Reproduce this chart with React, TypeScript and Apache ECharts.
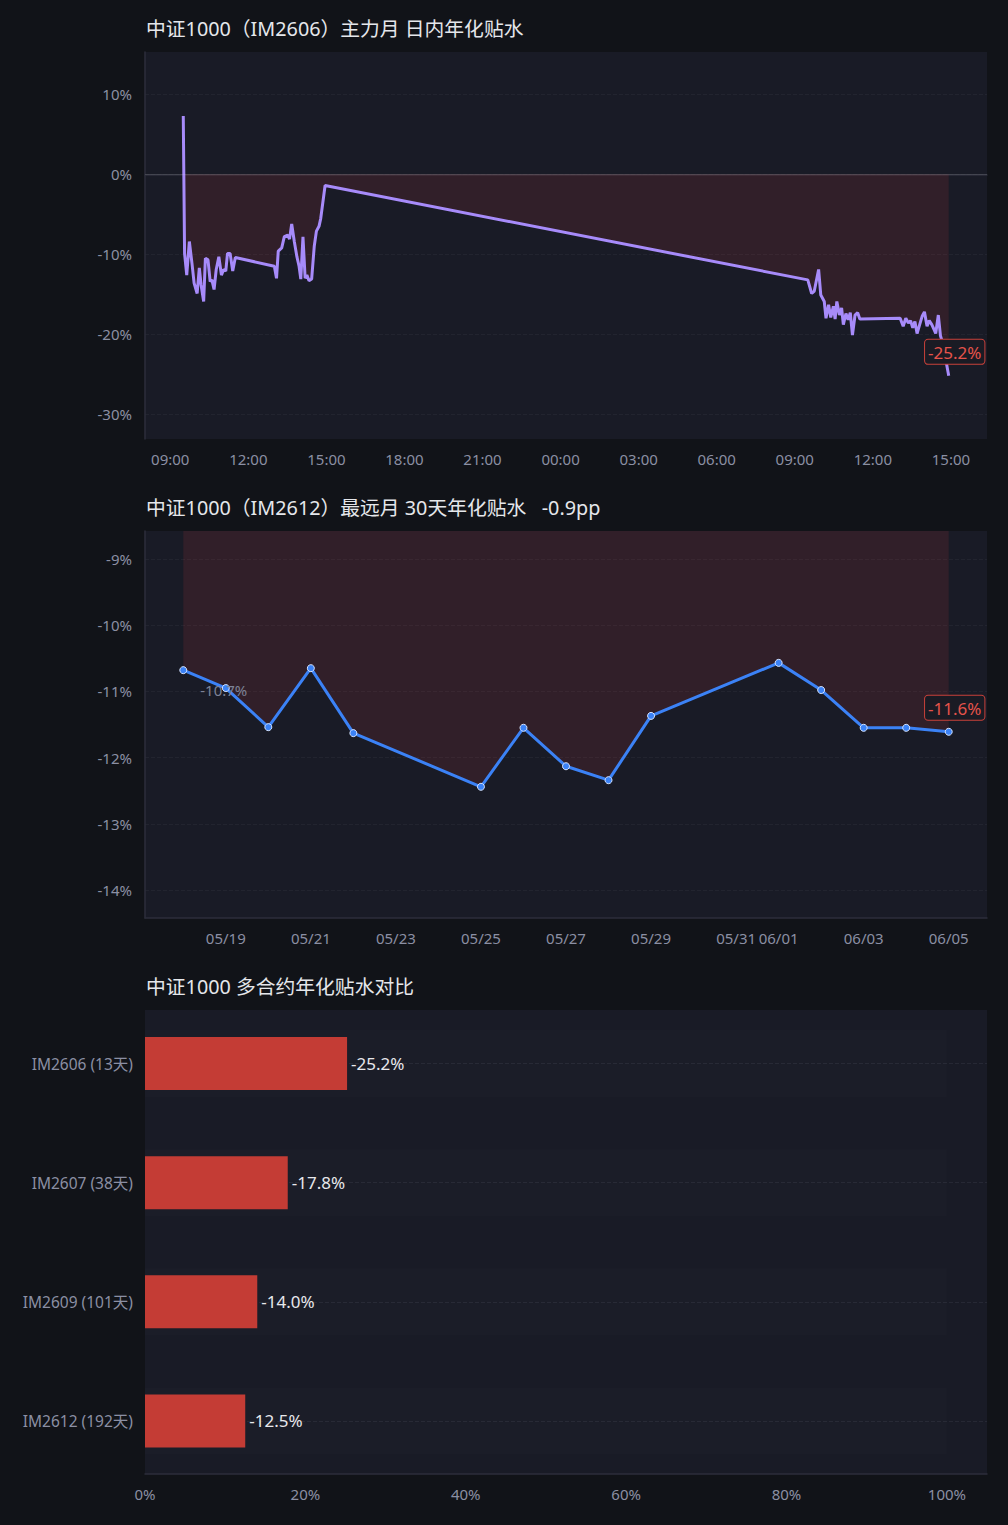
import React, { useEffect, useRef } from "react";
import * as echarts from "echarts";

const FONT = '"Noto Sans", "Noto Sans CJK SC", sans-serif';

// ---------- Chart 1: intraday annualized discount (IM2606) ----------
const intradayTitle = "中证1000（IM2606）主力月 日内年化贴水";
const day1Times = ["09:30","09:33","09:38","09:44","09:50","09:55","10:02","10:07","10:11","10:17","10:21","10:27","10:32","10:36","10:41","10:46","10:52","10:58","11:03","11:08","11:12","11:18","11:24","11:30","13:00","13:05","13:09","13:17","13:23","13:31","13:35","13:40","13:46","13:52","13:57","14:01","14:06","14:11","14:15","14:20","14:26","14:32","14:37","14:43","14:47","14:57"];
const day1Values = [7.3,-9.9,-12.6,-8.4,-11.1,-13.6,-14.9,-11.7,-13.8,-15.9,-10.5,-10.7,-13.4,-13.2,-14.4,-11.9,-10.3,-12.6,-11.9,-12.1,-9.9,-9.9,-12.1,-10.4,-11.5,-13.0,-9.6,-9.2,-7.8,-7.6,-8.1,-6.2,-8.4,-10.3,-11.5,-13.1,-7.8,-13.0,-12.6,-13.3,-13.1,-9.0,-7.1,-6.5,-5.5,-1.4];
const day2Times = ["09:30","09:39","09:45","09:55","10:00","10:08","10:12","10:18","10:23","10:29","10:33","10:37","10:43","10:48","10:52","10:58","11:03","11:08","11:13","11:19","11:25","11:30","13:03","13:10","13:16","13:22","13:27","13:32","13:37","13:42","13:48","13:54","13:59","14:05","14:10","14:16","14:21","14:25","14:31","14:36","14:41","14:55"];
const day2Values = [-13.2,-14.9,-14.6,-11.9,-15.1,-15.9,-18.0,-16.3,-17.9,-16.5,-18.1,-15.9,-17.6,-16.7,-18.8,-17.4,-18.2,-17.3,-20.1,-17.6,-17.3,-18.1,-18.0,-19.0,-18.0,-18.6,-18.3,-19.2,-18.4,-19.9,-18.8,-17.7,-17.2,-19.0,-18.3,-18.8,-19.4,-19.9,-17.6,-20.2,-21.1,-25.2];
const hourTicks = [9, 12, 15, 18, 21, 24, 27, 30, 33, 36, 39];
const intradayPctTicks = [-30, -20, -10, 0, 10];

// ---------- Chart 2: 30-day annualized discount (IM2612) ----------
const dailyDates = ["05/18","05/19","05/20","05/21","05/22","05/25","05/26","05/27","05/28","05/29","06/01","06/02","06/03","06/04","06/05"];
const dailyValues = [-10.68,-10.95,-11.54,-10.65,-11.63,-12.44,-11.55,-12.13,-12.34,-11.37,-10.57,-10.98,-11.55,-11.55,-11.61];
const dateTicks = ["05/19","05/21","05/23","05/25","05/27","05/29","05/31","06/01","06/03","06/05"];
const dailyPctTicks = [-14, -13, -12, -11, -10, -9];

// ---------- Chart 3: contracts comparison ----------
const contracts = ["IM2606", "IM2607", "IM2609", "IM2612"];
const daysLeft = [13, 38, 101, 192];
const contractDiscount = [-25.2, -17.8, -14.0, -12.5];

const YEAR = 2026;

function toHours(t: string, day: number) {
  const [h, m] = t.split(":").map(Number);
  return day * 24 + h + m / 60;
}
function toMs(d: string) {
  const [m, dd] = d.split("/").map(Number);
  return Date.UTC(YEAR, m - 1, dd);
}
function pad2(n: number) {
  return (n < 10 ? "0" : "") + n;
}

const C = {
  page: "#111318",
  plot: "#191b26",
  title: "#e5e7eb",
  axisLabel: "#8b8fa3",
  axisLine: "#2c2e3b",
  split: "#22242f",
  purple: "#a78bfa",
  blue: "#3b82f6",
  red: "#c43c35",
  fill: "rgba(239,68,68,0.16)",
  endText: "#e5534b",
  endBorder: "#c8413a",
};

function endLabelStyle() {
  return {
    show: true,
    position: "top",
    distance: 12,
    offset: [6, 0],
    formatter: (p: any) => Number(p.value).toFixed(1) + "%",
    color: C.endText,
    fontSize: 17,
    fontFamily: FONT,
    backgroundColor: "#1a1b24",
    borderColor: C.endBorder,
    borderWidth: 1,
    borderRadius: 3,
    padding: [4, 3, 3, 3],
  };
}

function buildOption() {
  const intraday = [
    ...day1Times.map((t, i) => [toHours(t, 0), day1Values[i]]),
    ...day2Times.map((t, i) => [toHours(t, 1), day2Values[i]]),
  ];
  const x1Min = intraday[0][0] as number;
  const x1Max = intraday[intraday.length - 1][0] as number;
  const x1Pad = (x1Max - x1Min) * 0.05;
  const lastIntraday = intraday[intraday.length - 1];

  const daily = dailyDates.map((d, i) => [toMs(d), dailyValues[i]]);
  const x2Min = daily[0][0] as number;
  const x2Max = daily[daily.length - 1][0] as number;
  const x2Pad = (x2Max - x2Min) * 0.05;
  const lastDaily = daily[daily.length - 1];
  const ppChange = (dailyValues[dailyValues.length - 1] - dailyValues[0]).toFixed(1);

  const catNames = contracts.map((c, i) => `${c} (${daysLeft[i]}天)`);

  const axisLabelBase = { color: C.axisLabel, fontSize: 15, fontFamily: FONT };
  const axisLineOn = { show: true, lineStyle: { color: C.axisLine, width: 1.5 } };
  const pctFmt = (v: number) => `${v}%`;

  const titleStyle = { color: C.title, fontSize: 19.8, fontWeight: "normal", fontFamily: FONT };

  return {
    animation: false,
    backgroundColor: C.page,
    textStyle: { fontFamily: FONT },
    title: [
      { text: intradayTitle, left: 146, top: 19, padding: 0, textStyle: titleStyle },
      {
        text: `中证1000（IM2612）最远月 30天年化贴水   ${ppChange}pp`,
        left: 146, top: 498, padding: 0, textStyle: titleStyle,
      },
      { text: "中证1000 多合约年化贴水对比", left: 146, top: 977, padding: 0, textStyle: titleStyle },
    ],
    grid: [
      { left: 145, right: 21, top: 52, height: 387, show: true, backgroundColor: C.plot, borderWidth: 0 },
      { left: 145, right: 21, top: 531, height: 387, show: true, backgroundColor: C.plot, borderWidth: 0 },
      { left: 145, right: 21, top: 1010, height: 464, show: true, backgroundColor: C.plot, borderWidth: 0 },
      { left: 145, right: 21, top: 1004, height: 476.5, show: false },
    ],
    xAxis: [
      {
        gridIndex: 0, type: "value", min: x1Min - x1Pad, max: x1Max + x1Pad,
        axisLine: axisLineOn, axisTick: { show: false, customValues: hourTicks },
        splitLine: { show: false },
        axisLabel: {
          ...axisLabelBase, margin: 12, customValues: hourTicks,
          formatter: (v: number) => `${pad2(Math.round(v) % 24)}:00`,
        },
      },
      {
        gridIndex: 1, type: "value", min: x2Min - x2Pad, max: x2Max + x2Pad,
        axisLine: axisLineOn, axisTick: { show: false, customValues: dateTicks.map(toMs) },
        splitLine: { show: false },
        axisLabel: {
          ...axisLabelBase, margin: 12, customValues: dateTicks.map(toMs),
          formatter: (v: number) => {
            const d = new Date(v);
            return `${pad2(d.getUTCMonth() + 1)}/${pad2(d.getUTCDate())}`;
          },
        },
      },
      {
        gridIndex: 2, type: "value", min: 0, max: 105, interval: 20,
        axisLine: axisLineOn, axisTick: { show: false }, splitLine: { show: false },
        axisLabel: { ...axisLabelBase, margin: 12, showMaxLabel: false, formatter: pctFmt },
      },
      {
        gridIndex: 3, type: "value", min: 0, max: 105, show: false,
        splitLine: { show: false },
      },
    ],
    yAxis: [
      {
        gridIndex: 0, type: "value", min: -33.1, max: 15.3,
        axisLine: axisLineOn, axisTick: { show: false, customValues: intradayPctTicks },
        splitLine: { show: true, lineStyle: { color: C.split, type: "dashed", width: 1 } },
        axisLabel: { ...axisLabelBase, margin: 13, customValues: intradayPctTicks, formatter: pctFmt },
      },
      {
        gridIndex: 1, type: "value", min: -14.42, max: -8.58,
        axisLine: axisLineOn, axisTick: { show: false, customValues: dailyPctTicks },
        splitLine: { show: true, lineStyle: { color: C.split, type: "dashed", width: 1 } },
        axisLabel: { ...axisLabelBase, margin: 13, customValues: dailyPctTicks, formatter: pctFmt },
      },
      { gridIndex: 2, type: "category", data: catNames, show: false },
      {
        gridIndex: 3, type: "category", data: catNames, inverse: true,
        axisLine: { show: false }, axisTick: { show: false }, splitLine: { show: false },
        axisLabel: { ...axisLabelBase, fontSize: 15.5, margin: 12 },
      },
      { gridIndex: 3, type: "category", data: catNames, inverse: true, show: false },
    ],
    series: [
      {
        type: "line", xAxisIndex: 0, yAxisIndex: 0, data: intraday,
        symbol: "none", showSymbol: false,
        lineStyle: { color: C.purple, width: 3 },
        itemStyle: { color: C.purple },
        areaStyle: { color: C.fill, origin: "auto" },
        markLine: {
          silent: true, symbol: "none", label: { show: false },
          lineStyle: { color: "rgba(255,255,255,0.13)", width: 1, type: "solid" },
          data: [{ yAxis: 0 }],
        },
        markPoint: {
          silent: true, symbol: "circle", symbolSize: 0,
          data: [{ coord: lastIntraday, value: lastIntraday[1] }],
          label: endLabelStyle(),
        },
      },
      {
        type: "line", xAxisIndex: 1, yAxisIndex: 1,
        data: daily.map((p, i) =>
          i === 0
            ? {
                value: p,
                label: {
                  show: true, position: "right", offset: [8, 20],
                  formatter: () => `${dailyValues[0].toFixed(1)}%`,
                  color: "#7d8296", fontSize: 15, fontFamily: FONT,
                },
              }
            : { value: p }
        ),
        symbol: "circle", symbolSize: 7, showSymbol: true,
        lineStyle: { color: C.blue, width: 3 },
        itemStyle: { color: C.blue, borderColor: "#d6e4ff", borderWidth: 1 },
        areaStyle: { color: C.fill, origin: "auto" },
        markPoint: {
          silent: true, symbol: "circle", symbolSize: 0,
          data: [{ coord: lastDaily, value: lastDaily[1] }],
          label: endLabelStyle(),
        },
      },
      {
        type: "bar", xAxisIndex: 3, yAxisIndex: 4, z: 1, silent: true,
        data: catNames.map(() => 100), barWidth: 67,
        itemStyle: { color: "rgba(255,255,255,0.011)" },
        markLine: {
          silent: true, symbol: "none", label: { show: false }, z: 1,
          lineStyle: { color: "#262834", width: 1, type: "dashed" },
          data: catNames.map((n) => ({ yAxis: n })),
        },
      },
      {
        type: "bar", xAxisIndex: 3, yAxisIndex: 3, z: 3,
        data: contractDiscount.map((v) => Math.abs(v)), barWidth: 53,
        itemStyle: { color: C.red },
        label: {
          show: true, position: "right", distance: 4,
          formatter: (p: any) => `${contractDiscount[p.dataIndex].toFixed(1)}%`,
          color: "#e8e8ec", fontSize: 17, fontFamily: FONT,
        },
      },
    ],
  };
}

export default function App() {
  const ref = useRef<HTMLDivElement>(null);
  useEffect(() => {
    document.body.style.margin = "0";
    document.body.style.background = C.page;
    if (!ref.current) return;
    const chart = echarts.init(ref.current, null, { renderer: "svg" });
    chart.setOption(buildOption() as any);
    return () => chart.dispose();
  }, []);
  return <div ref={ref} style={{ width: 1008, height: 1525 }} />;
}
